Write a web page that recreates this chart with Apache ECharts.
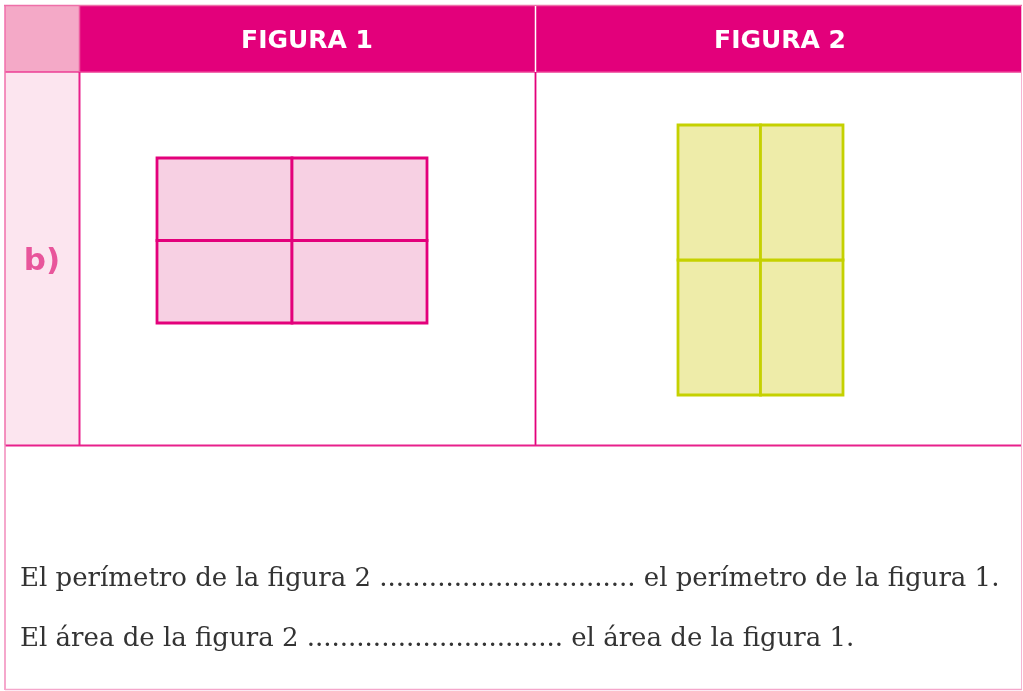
<!DOCTYPE html>
<html><head><meta charset="utf-8">
<script src="https://cdn.jsdelivr.net/npm/echarts@6/dist/echarts.min.js"></script>
<style>html,body{margin:0;padding:0;background:#fff}#c{width:1023px;height:691px}</style>
</head><body><div id="c"></div>
<script>
// Header labels
const headers = ['FIGURA 1', 'FIGURA 2'];
const rowLabel = 'b)';
// Figure 1: 2x2 grid of cells, each 5 units wide, 3 units tall  [x, y, w, h]
const figure1Cells = [[0,0,5,3],[5,0,5,3],[0,3,5,3],[5,3,5,3]];
// Figure 2: 2x2 grid of cells, each 3 units wide, 5 units tall
const figure2Cells = [[0,0,3,5],[3,0,3,5],[0,5,3,5],[3,5,3,5]];
const sentences = [
  'El perímetro de la figura 2 ............................... el perímetro de la figura 1.',
  'El área de la figura 2 ............................... el área de la figura 1.'
];

const chart = echarts.init(document.getElementById('c'), null, {renderer:'canvas'});

function cellRenderer(fill, stroke){
  return function(params, api){
    const p0 = api.coord([api.value(0), api.value(1) + api.value(3)]);
    const p1 = api.coord([api.value(0) + api.value(2), api.value(1)]);
    return {type:'rect', shape:{x:p0[0], y:p0[1], width:p1[0]-p0[0], height:p1[1]-p0[1]},
      style:{fill:fill, stroke:stroke, lineWidth:2.8}};
  };
}
const hiddenAxis = {show:false};
const MAG = '#e3007b';

chart.setOption({
  backgroundColor:'#ffffff',
  animation:false,
  grid:[
    {left:157, top:158, width:270, height:165},
    {left:678, top:125, width:165, height:270}
  ],
  xAxis:[
    Object.assign({type:'value', min:0, max:10, gridIndex:0}, hiddenAxis),
    Object.assign({type:'value', min:0, max:6, gridIndex:1}, hiddenAxis)
  ],
  yAxis:[
    Object.assign({type:'value', min:0, max:6, gridIndex:0}, hiddenAxis),
    Object.assign({type:'value', min:0, max:10, gridIndex:1}, hiddenAxis)
  ],
  series:[
    {type:'custom', xAxisIndex:0, yAxisIndex:0, data:figure1Cells,
     renderItem:cellRenderer('#f7d0e3', MAG), silent:true},
    {type:'custom', xAxisIndex:1, yAxisIndex:1, data:figure2Cells,
     renderItem:cellRenderer('#eeeca9', '#c5d100'), silent:true}
  ],
  graphic:[
    // header
    {type:'rect', z:-10, shape:{x:5, y:6, width:74, height:66}, style:{fill:'#f4a9c7'}},
    {type:'rect', z:-10, shape:{x:79, y:6, width:943, height:66}, style:{fill:MAG}},
    // left column body
    {type:'rect', z:-10, shape:{x:5, y:72, width:74, height:373}, style:{fill:'#fce5ef'}},
    // top border
    {type:'line', z:-5, shape:{x1:4, y1:5.5, x2:1022, y2:5.5}, style:{stroke:'#ee6fa9', lineWidth:1.5}},
    // header bottom line
    {type:'line', z:-5, shape:{x1:5, y1:72, x2:1022, y2:72}, style:{stroke:'#ec3d94', lineWidth:1.5}},
    // left column right border
    {type:'line', z:-5, shape:{x1:79.5, y1:6, x2:79.5, y2:72}, style:{stroke:'#ec5a9f', lineWidth:1.5}},
    {type:'line', z:-5, shape:{x1:79.5, y1:72, x2:79.5, y2:445}, style:{stroke:'#e8208b', lineWidth:2}},
    // figure divider
    {type:'line', z:-5, shape:{x1:535.5, y1:6, x2:535.5, y2:72}, style:{stroke:'#ffffff', lineWidth:1.5}},
    {type:'line', z:-5, shape:{x1:535.5, y1:72, x2:535.5, y2:445}, style:{stroke:MAG, lineWidth:1.8}},
    // row separator
    {type:'line', z:-5, shape:{x1:5, y1:445.5, x2:1022, y2:445.5}, style:{stroke:'#e8208b', lineWidth:2.2}},
    // outer borders
    {type:'line', z:-5, shape:{x1:5, y1:6, x2:5, y2:445}, style:{stroke:'#f06fab', lineWidth:1.5}},
    {type:'line', z:-5, shape:{x1:5, y1:445, x2:5, y2:690}, style:{stroke:'#f28bbb', lineWidth:1.5}},
    {type:'line', z:-5, shape:{x1:1021.5, y1:6, x2:1021.5, y2:690}, style:{stroke:'#f7b3d2', lineWidth:1}},
    {type:'line', z:-5, shape:{x1:5, y1:689.5, x2:1022, y2:689.5}, style:{stroke:'#f5a6cb', lineWidth:1.5}},
    // header texts
    {type:'text', x:307, y:41, style:{text:headers[0], fill:'#ffffff', font:'bold 25px "DejaVu Sans"', textAlign:'center', textVerticalAlign:'middle'}},
    {type:'text', x:780, y:41, style:{text:headers[1], fill:'#ffffff', font:'bold 25px "DejaVu Sans"', textAlign:'center', textVerticalAlign:'middle'}},
    // row label
    {type:'text', x:42, y:262, style:{text:rowLabel, fill:'#e8559b', font:'bold 31px "DejaVu Sans"', textAlign:'center', textVerticalAlign:'middle'}},
    // sentences
    {type:'text', x:20, y:579, style:{text:sentences[0], fill:'#333333', font:'26px "DejaVu Serif"', textAlign:'left', textVerticalAlign:'middle'}},
    {type:'text', x:20, y:639, style:{text:sentences[1], fill:'#333333', font:'26px "DejaVu Serif"', textAlign:'left', textVerticalAlign:'middle'}}
  ]
});
</script></body></html>
